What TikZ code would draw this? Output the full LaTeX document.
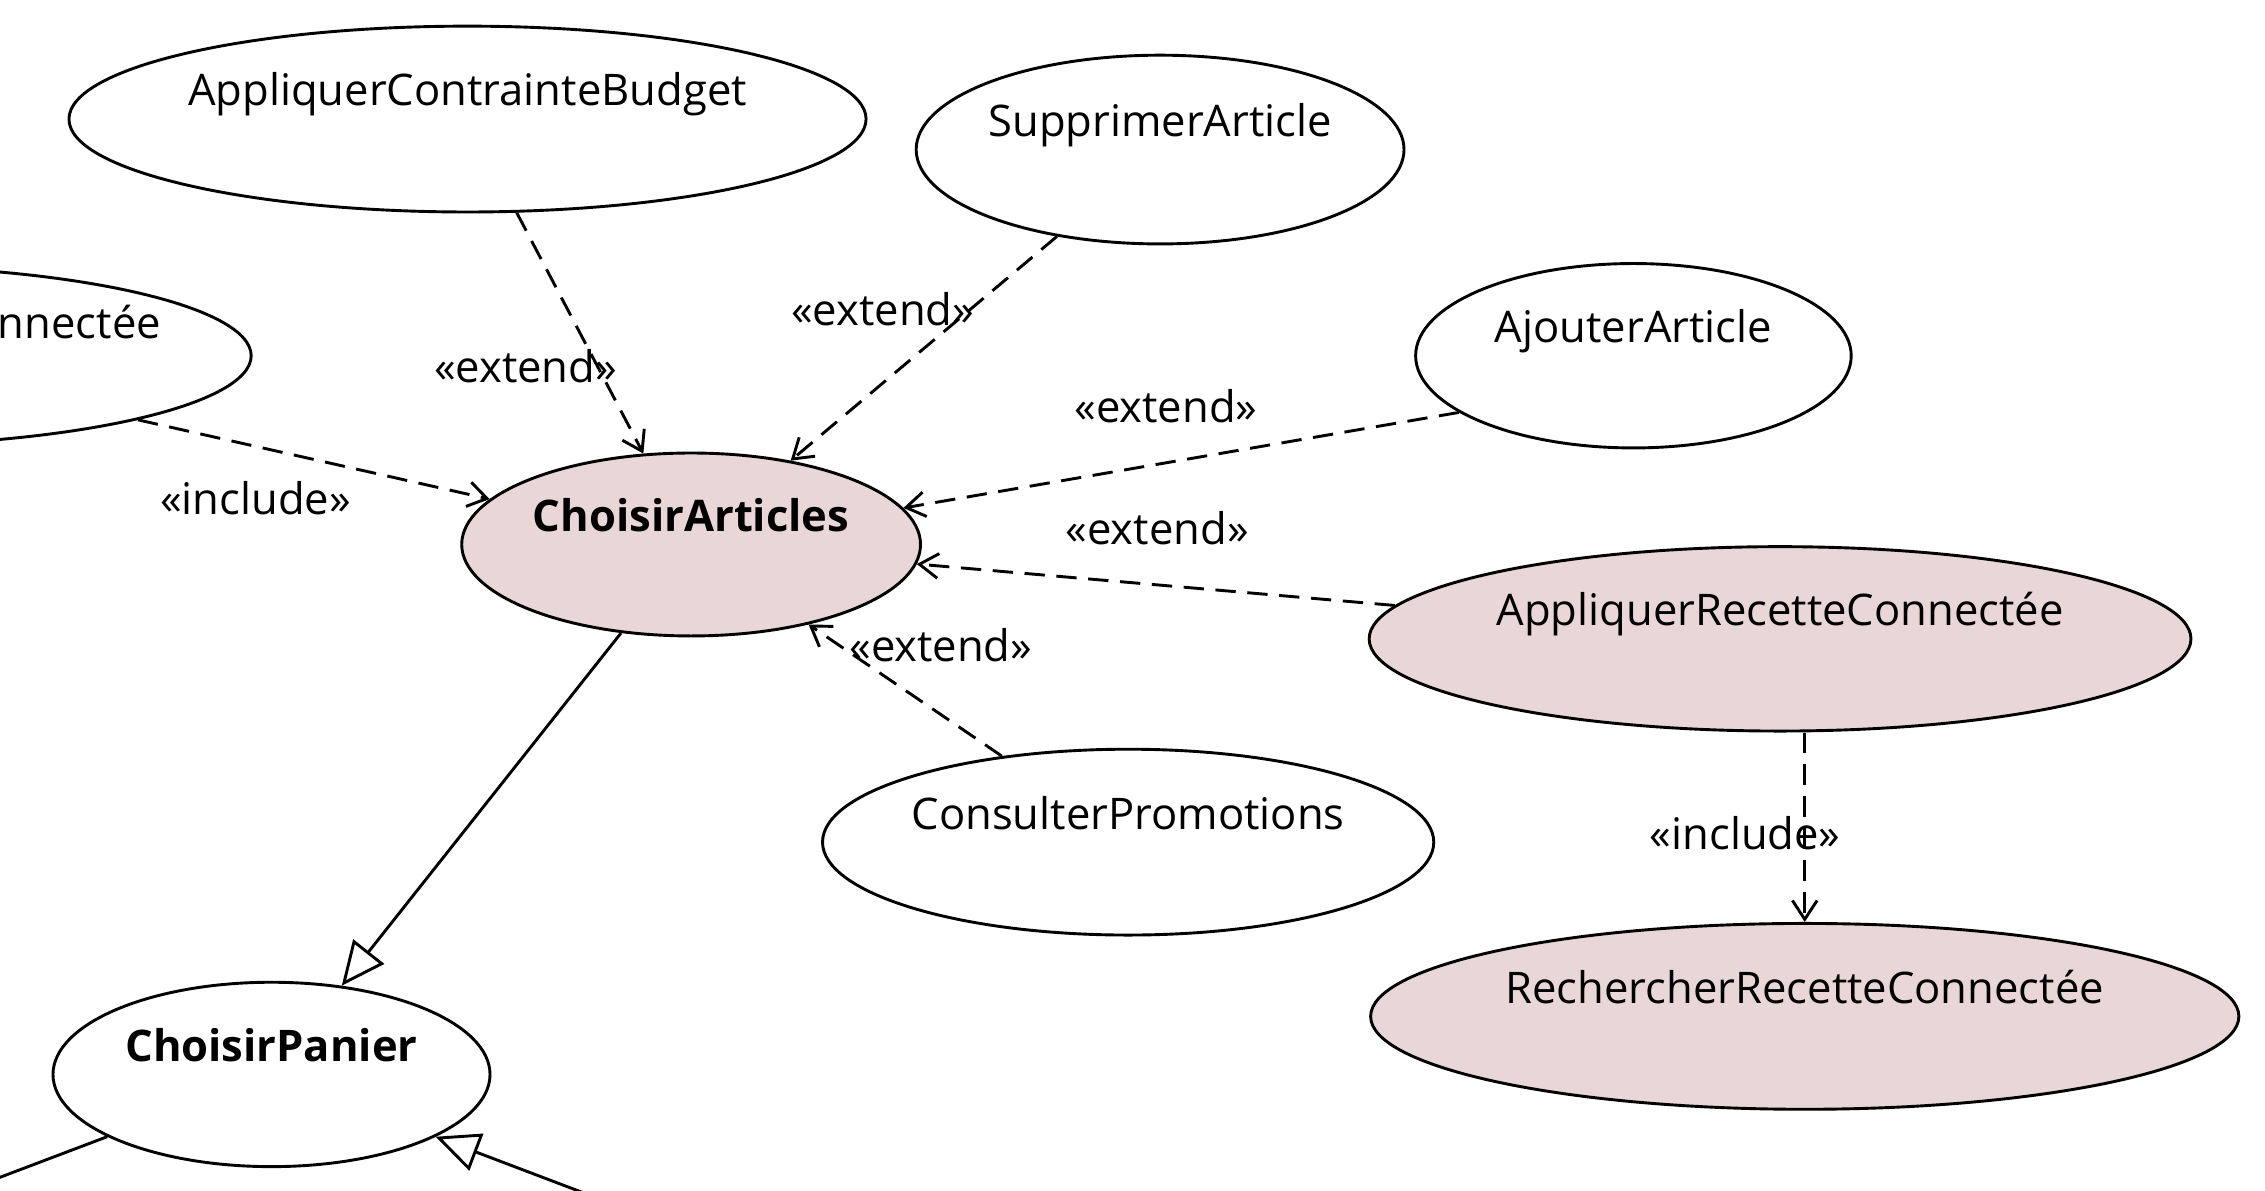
\documentclass[tikz,border=0pt]{standalone}
\usepackage{fontspec}
\setmainfont{Open Sans}
\usetikzlibrary{shapes.geometric,arrows.meta}
\definecolor{ucpink}{RGB}{233,214,214}
\newcommand{\ucl}[1]{\makebox[0pt]{#1}}
\tikzset{
  uc/.style={ellipse, draw, line width=2pt, fill=white, inner sep=0pt,
    text height=22pt, text depth=40pt, font=\fontsize{30}{36}\selectfont},
  ucsel/.style={uc, fill=ucpink},
  dep/.style={line width=2pt, dash pattern=on 14pt off 8pt,
    -{Straight Barb[length=13pt,width=17pt]}},
  gen/.style={line width=2pt, -{Triangle[open,length=30pt,width=27pt]}},
  lbl/.style={font=\fontsize{30}{36}\selectfont, inner sep=0pt}
}
\begin{document}
\begin{tikzpicture}[x=1pt,y=-1pt]
  \clip (0,0) rectangle (1560,820);
  % use cases
  \node[uc, minimum width=549, minimum height=128] (budget) at (322,82) {\ucl{AppliquerContrainteBudget}};
  \node[uc, minimum width=336, minimum height=130] (suppr) at (799,103) {\ucl{SupprimerArticle}};
  \node[uc, minimum width=548, minimum height=124] (rc0) at (-101,245) {};
  \node[lbl, anchor=base east] (rc0txt) at (111,233) {nnectée};
  \node[uc, minimum width=300, minimum height=127] (ajout) at (1125,245) {\ucl{AjouterArticle}};
  \node[ucsel, minimum width=316, minimum height=126] (articles) at (476,375) {\ucl{\bfseries ChoisirArticles}};
  \node[ucsel, minimum width=566, minimum height=127] (apprc) at (1226,440) {\ucl{AppliquerRecetteConnectée}};
  \node[uc, minimum width=421, minimum height=128] (consult) at (777,580) {\ucl{ConsulterPromotions}};
  \node[ucsel, minimum width=598, minimum height=128] (rech) at (1243,700) {\ucl{RechercherRecetteConnectée}};
  \node[uc, minimum width=301, minimum height=127] (panier) at (187,740) {\ucl{\bfseries ChoisirPanier}};
  \coordinate (offl) at (-40,826);
  \coordinate (offr) at (440,836);
  % relations
  \draw[dep] (budget) -- (articles);
  \draw[dep] (suppr) -- (articles);
  \draw[dep] (rc0) -- (articles);
  \draw[dep] (ajout.198) -- (articles);
  \draw[dep] (apprc) -- (articles);
  \draw[dep] (consult) -- (articles);
  \draw[dep] (rech.north |- apprc.south) -- (rech.north);
  \draw[gen] (articles) -- (panier);
  \draw[line width=2pt] (panier) -- (offl);
  \draw[gen] (offr) -- (panier);
  % labels
  \node[lbl] (lbudget) at (362,252) {«extend»};
  \node[lbl] (lsuppr) at (608,213) {«extend»};
  \node[lbl] (lrc0) at (176,343) {«include»};
  \node[lbl] (lajout) at (803,280) {«extend»};
  \node[lbl] (lapprc) at (797,364) {«extend»};
  \node[lbl] (lconsult) at (648,444) {«extend»};
  \node[lbl] (lrech) at (1202,574) {«include»};
\end{tikzpicture}
\end{document}
